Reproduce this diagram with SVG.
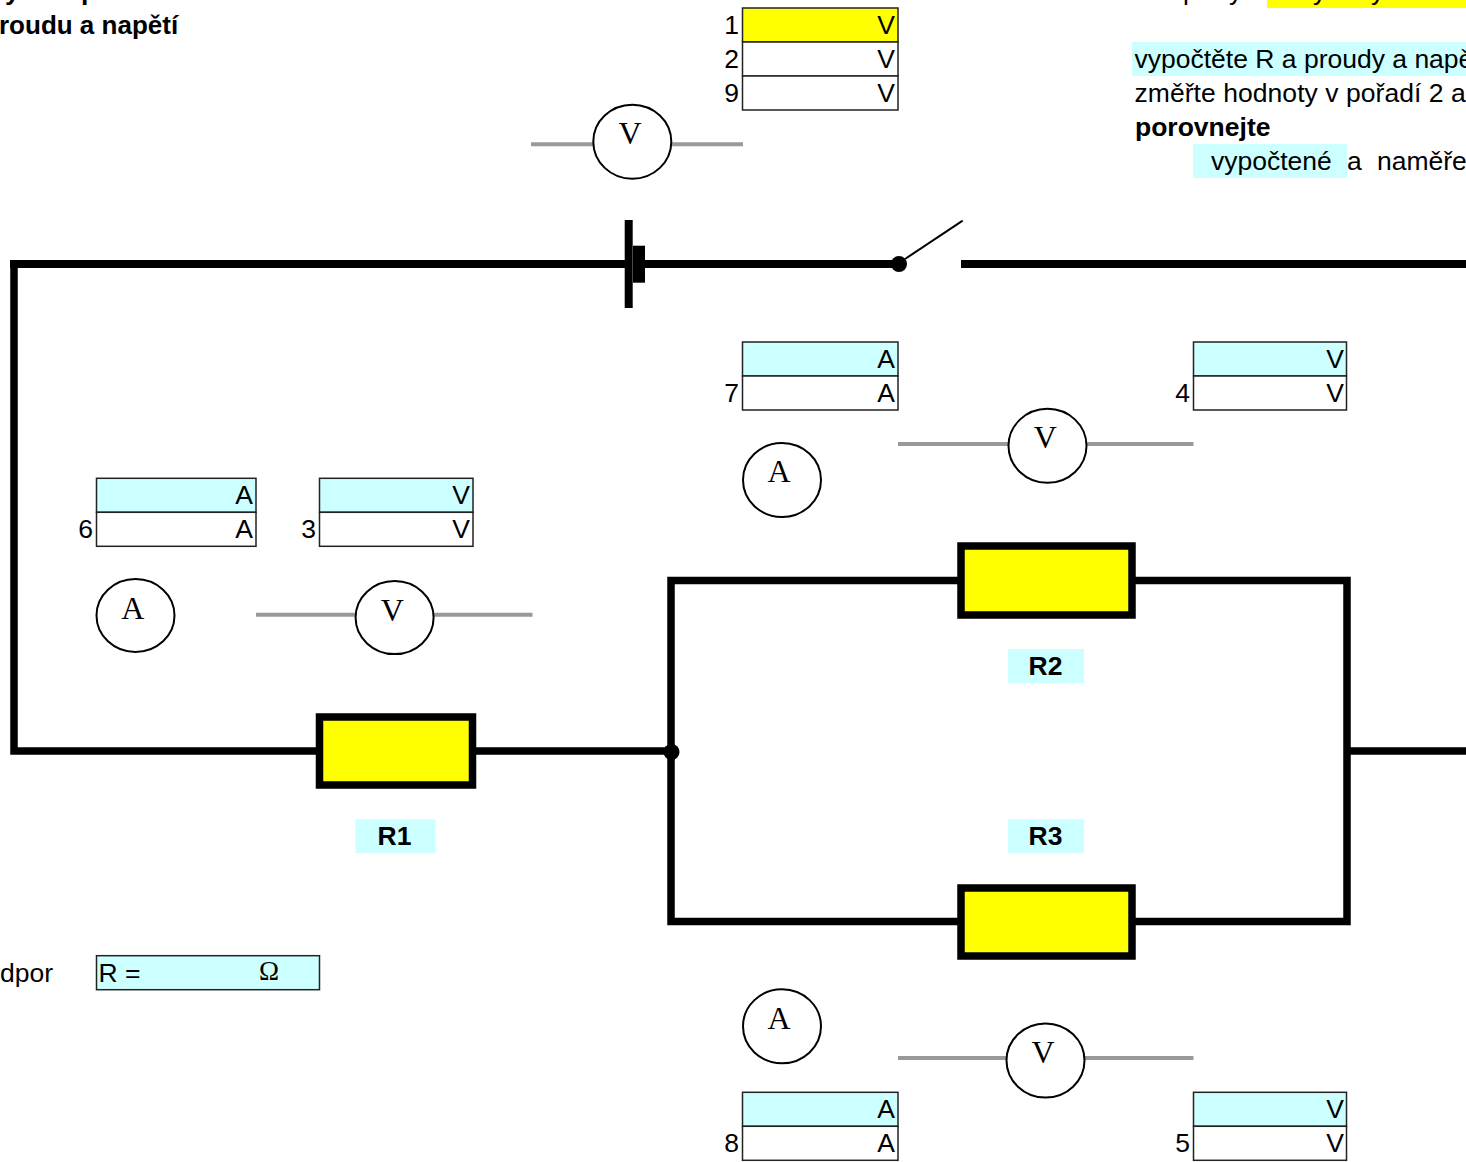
<svg xmlns="http://www.w3.org/2000/svg" width="1466" height="1162" viewBox="0 0 1466 1162">
<style>
text{font-family:"Liberation Sans",Arial,sans-serif;font-size:26.5px;fill:#000}
.b{font-weight:bold}
.s{font-family:"Liberation Serif","Times New Roman",serif;font-size:32px;text-anchor:middle}
.m{text-anchor:middle}
.e{text-anchor:end}
.wire{fill:none;stroke:#000;stroke-width:7.5;stroke-linecap:square;stroke-linejoin:miter}
.top{stroke-width:8}
.lead{fill:none;stroke:#999;stroke-width:4}
.meter{fill:#fff;stroke:#000;stroke-width:2}
.res{fill:#ff0;stroke:#000;stroke-width:7.5}
.cy{fill:#ccffff}
.cell{stroke:#222;stroke-width:1.5}
</style>
<rect width="1466" height="1162" fill="#fff"/>
<g id="connectors">
<path class="wire" d="M14 264V751H672"/>
<path class="wire top" d="M628 264H14"/>
<path class="wire top" d="M640 264H899"/>
<path class="wire top" d="M965 264H1470"/>
<path class="wire" d="M962 580.500H671V921.500H962"/>
<path class="wire" d="M1132 580.500H1347V921.500H1132"/>
<path class="wire" d="M1351 751H1470"/>
<path d="M905 259L962.700 220.700" fill="none" stroke="#000" stroke-width="2"/>
<path class="lead" d="M531 144.300H743"/>
<path class="lead" d="M256 614.700H532.500"/>
<path class="lead" d="M898 444H1193.500"/>
<path class="lead" d="M898 1058H1193.500"/>
</g>
<g id="header">
<text class="b" x="5" y="0">y</text>
<text class="b" x="81" y="0">p</text>
<text class="b" x="-1" y="34" style="font-size:26px">roudu a napětí</text>
</g>
<g id="instructions">
<text x="1183" y="0">p</text>
<text x="1229" y="0">y</text>
<rect x="1267" y="0" width="199" height="8" fill="#ff0"/>
<text x="1313" y="0">y</text>
<text x="1371" y="0">y</text>
<rect class="cy" x="1132" y="42" width="334" height="34"/>
<text x="1134.500" y="68">vypočtěte R a proudy a napě</text>
<text x="1134.500" y="102" style="letter-spacing:.05px">změřte hodnoty v pořadí 2 a</text>
<text class="b" x="1135" y="136">porovnejte</text>
<rect class="cy" x="1193" y="144" width="154" height="34"/>
<text x="1211" y="170">vypočtené</text>
<text x="1347" y="170">a</text>
<text x="1377" y="170">naměře</text>
</g>
<g id="battery">
<rect x="624.700" y="220" width="8" height="88"/>
<rect x="633" y="245.700" width="12" height="37"/>
</g>
<g id="switch"><circle cx="899" cy="264" r="8"/></g>
<g id="junction"><circle cx="671.500" cy="752" r="8"/></g>
<g id="R1"><rect class="res" x="319.500" y="717" width="153" height="68"/>
<rect class="cy" x="355.500" y="819.300" width="80" height="34"/><text class="b m" x="394.500" y="845">R1</text></g>
<g id="R2"><rect class="res" x="961" y="546" width="171" height="69"/>
<rect class="cy" x="1008" y="649" width="76" height="34"/><text class="b m" x="1045.500" y="674.500">R2</text></g>
<g id="R3"><rect class="res" x="961" y="888" width="171" height="68"/>
<rect class="cy" x="1008" y="819.300" width="76" height="34"/><text class="b m" x="1045.500" y="845">R3</text></g>
<g id="table-top">
<rect class="cell" x="742.500" y="8" width="155.500" height="34" fill="#ff0"/>
<rect class="cell" x="742.500" y="42" width="155.500" height="34" fill="#fff"/>
<rect class="cell" x="742.500" y="76" width="155.500" height="34" fill="#fff"/>
<text class="e" x="739" y="34">1</text><text class="e" x="739" y="68">2</text><text class="e" x="739" y="102">9</text>
<text class="e" x="895" y="34">V</text><text class="e" x="895" y="68">V</text><text class="e" x="895" y="102">V</text>
</g>
<g id="table-6">
<rect class="cell cy" x="96.500" y="478.300" width="159.500" height="34"/>
<rect class="cell" x="96.500" y="512.300" width="159.500" height="34" fill="#fff"/>
<text class="e" x="93" y="538">6</text>
<text class="e" x="253" y="504">A</text><text class="e" x="253" y="538">A</text>
</g>
<g id="table-3">
<rect class="cell cy" x="319.500" y="478.300" width="153.500" height="34"/>
<rect class="cell" x="319.500" y="512.300" width="153.500" height="34" fill="#fff"/>
<text class="e" x="316" y="538">3</text>
<text class="e" x="470" y="504">V</text><text class="e" x="470" y="538">V</text>
</g>
<g id="table-7">
<rect class="cell cy" x="742.500" y="342" width="155.500" height="34"/>
<rect class="cell" x="742.500" y="376" width="155.500" height="34" fill="#fff"/>
<text class="e" x="739" y="402">7</text>
<text class="e" x="895" y="368">A</text><text class="e" x="895" y="402">A</text>
</g>
<g id="table-4">
<rect class="cell cy" x="1193.500" y="342" width="153" height="34"/>
<rect class="cell" x="1193.500" y="376" width="153" height="34" fill="#fff"/>
<text class="e" x="1190" y="402">4</text>
<text class="e" x="1344" y="368">V</text><text class="e" x="1344" y="402">V</text>
</g>
<g id="table-8">
<rect class="cell cy" x="742.500" y="1092.300" width="155.500" height="34"/>
<rect class="cell" x="742.500" y="1126.300" width="155.500" height="34" fill="#fff"/>
<text class="e" x="739" y="1152">8</text>
<text class="e" x="895" y="1118">A</text><text class="e" x="895" y="1152">A</text>
</g>
<g id="table-5">
<rect class="cell cy" x="1193.500" y="1092.300" width="153" height="34"/>
<rect class="cell" x="1193.500" y="1126.300" width="153" height="34" fill="#fff"/>
<text class="e" x="1190" y="1152">5</text>
<text class="e" x="1344" y="1118">V</text><text class="e" x="1344" y="1152">V</text>
</g>
<g id="meter-v-top"><ellipse class="meter" cx="632.300" cy="141.700" rx="39" ry="37"/><text class="s" x="630" y="144">V</text></g>
<g id="meter-a-r1"><ellipse class="meter" cx="135.500" cy="615.500" rx="39" ry="36.500"/><text class="s" x="132.700" y="619">A</text></g>
<g id="meter-v-r1"><ellipse class="meter" cx="394.600" cy="617.600" rx="39" ry="36.500"/><text class="s" x="392.400" y="621">V</text></g>
<g id="meter-v-r2"><ellipse class="meter" cx="1047.500" cy="445.800" rx="39" ry="37"/><text class="s" x="1045.300" y="448">V</text></g>
<g id="meter-a-r2"><ellipse class="meter" cx="782" cy="480" rx="39" ry="37"/><text class="s" x="779" y="482">A</text></g>
<g id="meter-a-r3"><ellipse class="meter" cx="782" cy="1026.300" rx="39" ry="37"/><text class="s" x="779" y="1028.700">A</text></g>
<g id="meter-v-r3"><ellipse class="meter" cx="1045.500" cy="1060.500" rx="39" ry="37"/><text class="s" x="1043" y="1062.700">V</text></g>
<g id="resistance">
<text x="0" y="982">dpor</text>
<rect class="cell cy" x="96.500" y="955.700" width="223" height="34"/>
<text x="98.500" y="982">R =</text>
<text class="s" x="269" y="980" style="font-size:27px">Ω</text>
</g>
</svg>
